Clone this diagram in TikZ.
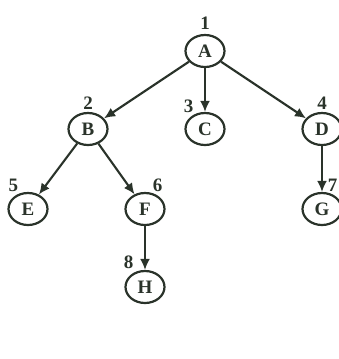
\documentclass[tikz,border=0pt]{standalone}
\usepackage{fontspec}
\setmainfont{Liberation Serif}
\usetikzlibrary{shapes.geometric,arrows.meta}
\definecolor{TreeInk}{HTML}{2A332A}

\tikzset{
  vertex/.style={ellipse, draw=TreeInk, line width=2.2pt, fill=white,
    minimum width=39pt, minimum height=32pt, inner sep=0pt,
    text=TreeInk, font=\fontsize{19}{21}\selectfont\bfseries},
  order/.style={text=TreeInk, font=\fontsize{19}{21}\selectfont\bfseries,
    inner sep=1pt},
  edge/.style={draw=TreeInk, line width=2.1pt, -{Latex[length=11pt,width=10pt]}}
}

\begin{document}
\begin{tikzpicture}[x=1pt,y=-1pt]
    \useasboundingbox (0,0) rectangle (338,359);
    % tree nodes with their visiting order
    \node[vertex, label={[order,label distance=3pt]90:1}] (A) at (205,51) {A};
    \node[vertex, label={[order,label distance=1pt]90:2}] (B) at (88,129) {B};
    \node[vertex, label={[order,label distance=0pt]125:3}] (C) at (205,129) {C};
    \node[vertex, label={[order,label distance=1pt]90:4}] (D) at (322,129) {D};
    \node[vertex, label={[order,label distance=1pt]118:5}] (E) at (28,209) {E};
    \node[vertex, label={[order,label distance=0pt]68:6}] (F) at (145,209) {F};
    \node[vertex, label={[order,label distance=0pt]74:7}] (G) at (322,209) {G};
    \node[vertex, label={[order,label distance=2pt]122:8}] (H) at (145,287) {H};

    \draw[edge] (A) -- (B);
    \draw[edge] (A) -- (C);
    \draw[edge] (A) -- (D);
    \draw[edge] (B) -- (E);
    \draw[edge] (B) -- (F);
    \draw[edge] (D) -- (G);
    \draw[edge] (F) -- (H);
  \end{tikzpicture}
\end{document}
